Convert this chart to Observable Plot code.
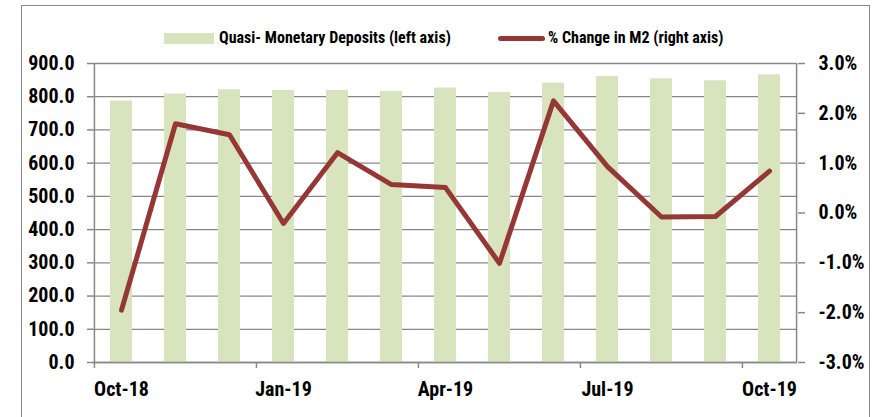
<!DOCTYPE html>
<html>
<head>
<meta charset="utf-8">
<script src="https://cdn.jsdelivr.net/npm/d3@7"></script>
<script src="https://cdn.jsdelivr.net/npm/@observablehq/plot@0.6"></script>
<style>
  html, body { margin: 0; padding: 0; background: #fff; }
  #wrap { position: relative; width: 875px; height: 417px; overflow: hidden; font-family: "Liberation Sans Narrow", "Arial Narrow", "Roboto Condensed", sans-serif; font-weight: bold; }
  #border { position: absolute; left: 21px; top: 5px; width: 849px; height: 430px; border: 1px solid #888; box-sizing: border-box; }
  #chart { position: absolute; left: 0; top: 0; }
  .leg { position: absolute; top: 28px; font-size: 16px; color: #000; white-space: nowrap; }
  .sw-bar { position: absolute; left: 164px; top: 33px; width: 50px; height: 11px; background: #d7e4bd; }
  .sw-line { position: absolute; left: 498px; top: 36px; width: 47px; height: 5px; border-radius: 3px; background: #953735; }
</style>
</head>
<body>
<div id="wrap">
  <div id="border"></div>
  <div id="chart"></div>
  <div class="sw-bar"></div>
  <div class="leg" style="left:219px">Quasi- Monetary Deposits (left axis)</div>
  <div class="sw-line"></div>
  <div class="leg" style="left:548px">% Change in M2 (right axis)</div>
</div>
<script>
const months = ["Oct-18","Nov-18","Dec-18","Jan-19","Feb-19","Mar-19","Apr-19","May-19","Jun-19","Jul-19","Aug-19","Sep-19","Oct-19"];
const deposits = [787, 808, 821, 819, 819, 816, 826, 813, 841, 861, 854, 848, 866];
const m2Change = [-1.95, 1.79, 1.57, -0.21, 1.21, 0.57, 0.51, -1.01, 2.25, 0.93, -0.08, -0.07, 0.84];
const leftTicks = [0, 100, 200, 300, 400, 500, 600, 700, 800, 900];
const rightTicks = [-3, -2, -1, 0, 1, 2, 3];
const xLabels = ["Oct-18", "Jan-19", "Apr-19", "Jul-19", "Oct-19"];

const data = months.map((m, i) => ({month: m, dep: deposits[i], pct: m2Change[i]}));
const toLeft = p => (p + 3) * 150;   // map right axis (-3%..3%) onto left axis (0..900)

const W = 875, H = 417, mL = 93, mR = 78, mT = 63, mB = 55;
const step = (W - mL - mR) / months.length;
const gray = "#888888";
const font = '"Liberation Sans Narrow", "Arial Narrow", "Roboto Condensed", sans-serif';

const chart = Plot.plot({
  width: W, height: H,
  marginLeft: mL, marginRight: mR, marginTop: mT, marginBottom: mB,
  style: {fontFamily: font, fontSize: "20px", fontWeight: "bold", color: "#000", background: "transparent"},
  x: {type: "band", domain: months, paddingInner: 0.6, paddingOuter: 0.3, axis: null, label: null},
  y: {domain: [0, 900], axis: null, label: null},
  marks: [
    Plot.gridY(leftTicks, {stroke: gray, strokeOpacity: 1, strokeWidth: 1.3}),
    Plot.barY(data, {x: "month", y: "dep", fill: "#d7e4bd"}),
    Plot.ruleX([months[0]], {stroke: gray, strokeWidth: 1.5, dx: -step / 2}),
    Plot.ruleX([months[months.length - 1]], {stroke: gray, strokeWidth: 1.5, dx: step / 2}),
    Plot.ruleY([0], {stroke: gray, strokeWidth: 1.5}),
    Plot.axisY(leftTicks, {anchor: "left", label: null, tickSize: 6, tickPadding: 13, stroke: gray, strokeWidth: 1.5, tickFormat: d => d.toFixed(1), fill: "#000", fontSize: 20}),
    Plot.axisY(rightTicks.map(toLeft), {anchor: "right", label: null, tickSize: 7, tickPadding: 14, stroke: gray, strokeWidth: 1.5, tickFormat: v => (v / 150 - 3).toFixed(1) + "%", fill: "#000", fontSize: 20}),
    Plot.axisX(xLabels, {anchor: "bottom", label: null, tickSize: 6, stroke: gray, strokeWidth: 1.5, tickFormat: () => "", dx: -step / 2}),
    Plot.axisX(xLabels, {anchor: "bottom", label: null, tickSize: 0, tickPadding: 19, fill: "#000", fontSize: 20}),
    Plot.line(data, {x: "month", y: d => toLeft(d.pct), stroke: "#953735", strokeWidth: 5, strokeLinejoin: "round", strokeLinecap: "round"})
  ]
});
document.getElementById("chart").appendChild(chart);
</script>
</body>
</html>
